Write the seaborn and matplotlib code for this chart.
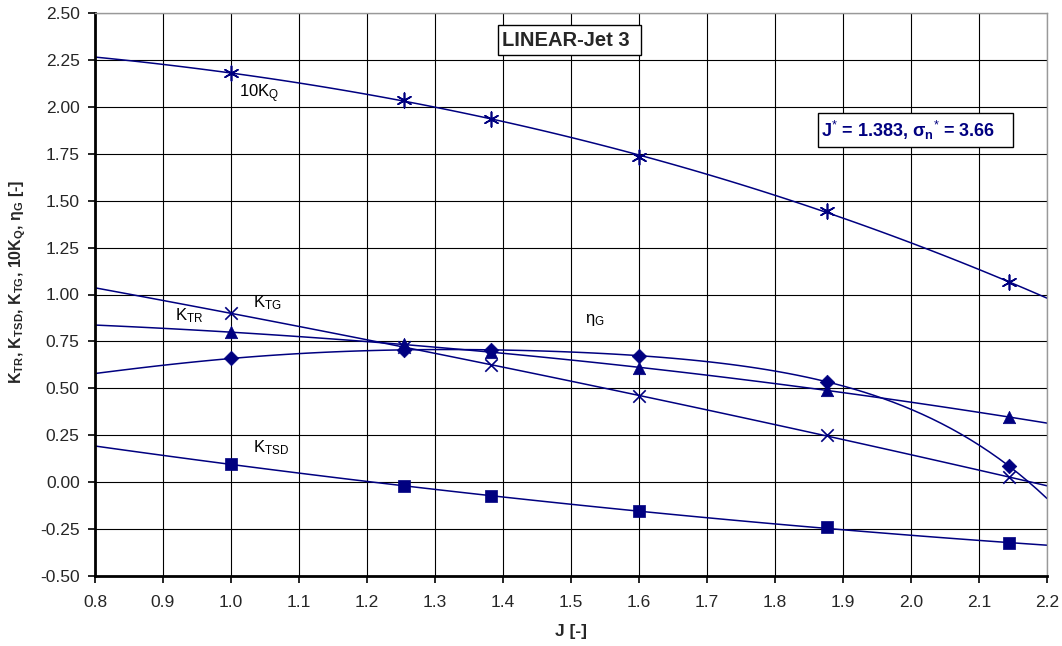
import numpy as np
import pandas as pd
import matplotlib
matplotlib.use("Agg")
import matplotlib.pyplot as plt
from matplotlib.patches import Rectangle
import seaborn as sns
from matplotlib.ticker import FormatStrFormatter

# ---- data ----
J = [1.0, 1.255, 1.383, 1.6, 1.876, 2.144]
K10Q = [2.178, 2.036, 1.937, 1.731, 1.446, 1.065]
KTG = [0.900, 0.720, 0.625, 0.457, 0.253, 0.025]
KTR = [0.798, 0.735, 0.695, 0.607, 0.491, 0.347]
ETAG = [0.659, 0.705, 0.705, 0.674, 0.535, 0.086]
KTSD = [0.097, -0.022, -0.075, -0.155, -0.240, -0.325]

series_names = ["10KQ", "KTG", "KTR", "etaG", "KTSD"]
series_vals = [K10Q, KTG, KTR, ETAG, KTSD]
series_markers = [(6, 2, 0), "x", "^", "D", "s"]
series_sizes = [110, 80, 80, 55, 80]
series_order = [3, 2, 2, 5, 2]

XTICKS = [0.8, 0.9, 1.0, 1.1, 1.2, 1.3, 1.4, 1.5, 1.6, 1.7, 1.8, 1.9, 2.0, 2.1, 2.2]
YTICKS = [-0.5, -0.25, 0.0, 0.25, 0.5, 0.75, 1.0, 1.25, 1.5, 1.75, 2.0, 2.25, 2.5]

NAVY = "#000080"

sns.set_theme(style="white")
plt.rcParams["font.family"] = ["Liberation Sans", "DejaVu Sans"]
plt.rcParams["mathtext.fontset"] = "custom"
plt.rcParams["mathtext.rm"] = "Liberation Sans"
plt.rcParams["mathtext.it"] = "Liberation Sans"
plt.rcParams["mathtext.bf"] = "Liberation Sans:bold"

fig = plt.figure(figsize=(10.62, 6.46), dpi=100)
ax = fig.add_axes([95 / 1062, 1 - 576 / 646, (1047 - 95) / 1062, (576 - 13) / 646])
ax.set_xlim(0.8, 2.2)
ax.set_ylim(-0.5, 2.5)

for name, vals, mk, sz, order in zip(series_names, series_vals, series_markers, series_sizes, series_order):
    df = pd.DataFrame({"J": J, "v": vals})
    sns.regplot(data=df, x="J", y="v", order=order, ci=None, scatter=False,
                truncate=False, ax=ax, line_kws=dict(color=NAVY, lw=1.1))
    if mk == "x" or isinstance(mk, tuple):
        sns.scatterplot(data=df, x="J", y="v", marker=mk, s=sz, color=NAVY,
                        linewidth=1.2, ax=ax, zorder=5)
    else:
        sns.scatterplot(data=df, x="J", y="v", marker=mk, s=sz, color=NAVY,
                        edgecolor=NAVY, linewidth=0.5, ax=ax, zorder=5)

ax.set_xlim(0.8, 2.2)
ax.set_ylim(-0.5, 2.5)
ax.set_xticks(XTICKS)
ax.set_yticks(YTICKS)
ax.xaxis.set_major_formatter(FormatStrFormatter("%.1f"))
ax.yaxis.set_major_formatter(FormatStrFormatter("%.2f"))
ax.grid(True, color="black", lw=0.8)
ax.set_axisbelow(True)
ax.tick_params(axis="both", which="major", labelsize=12.5, length=5, width=1.2,
               direction="out", color="black", left=True, bottom=True)
ax.tick_params(axis="x", pad=9)
ax.tick_params(axis="y", pad=6)
for side in ["top", "right"]:
    ax.spines[side].set_color("#999999")
    ax.spines[side].set_linewidth(1.0)
for side in ["left", "bottom"]:
    ax.spines[side].set_color("black")
    ax.spines[side].set_linewidth(2.0)

ax.set_xlabel("J [-]", fontsize=12.5, fontweight="bold", labelpad=10)
ax.set_ylabel(r"K$_{\mathbf{TR}}$, K$_{\mathbf{TSD}}$, K$_{\mathbf{TG}}$, 10K$_{\mathbf{Q}}$, $\mathbf{\eta}_{\mathbf{G}}$ [-]",
              fontsize=11.5, fontweight="bold")
ax.yaxis.set_label_coords(-0.0704, 0.523)

# curve labels
lab_kw = dict(fontsize=12, color="black", ha="left", va="center")
ax.text(1.012, 2.07, r"10K$_{\mathrm{Q}}$", **lab_kw)
ax.text(0.918, 0.885, r"K$_{\mathrm{TR}}$", **lab_kw)
ax.text(1.033, 0.955, r"K$_{\mathrm{TG}}$", **lab_kw)
ax.text(1.52, 0.865, r"$\eta_{\mathrm{G}}$", **lab_kw)
ax.text(1.033, 0.185, r"K$_{\mathrm{TSD}}$", **lab_kw)

# boxed annotations
ax.add_patch(Rectangle((1.392, 2.276), 0.211, 0.160, fc="white", ec="black", lw=1.0, zorder=9))
ax.text(1.398, 2.356, "LINEAR-Jet 3", fontsize=14.5, fontweight="bold", ha="left", va="center", zorder=10)
ax.add_patch(Rectangle((1.863, 1.786), 0.287, 0.181, fc="white", ec="black", lw=1.0, zorder=9))
ax.text(1.8675, 1.876, r"J$^{*}$ = 1.383, $\mathbf{\sigma}_{\mathbf{n}}$$^{*}$ = 3.66", fontsize=13,
        fontweight="bold", color=NAVY, ha="left", va="center", zorder=10)

fig.savefig("out.png", dpi=100)
